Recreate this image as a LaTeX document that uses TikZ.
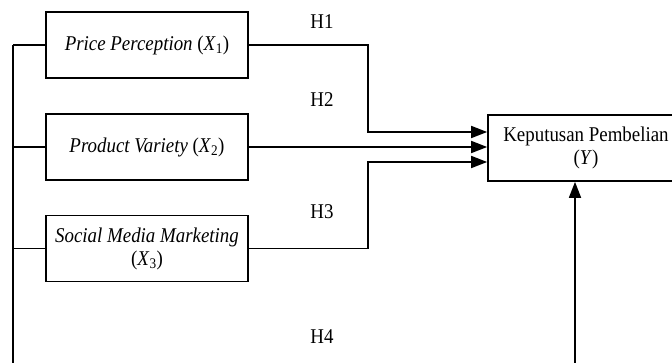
\documentclass[tikz,border=0pt]{standalone}
\usepackage{fontspec}
\setmainfont[FakeStretch=0.9]{Liberation Serif}
\usetikzlibrary{arrows.meta}
\tikzset{
  var/.style={draw, line width=1.7pt, minimum width=202pt, minimum height=66pt, inner sep=2pt, align=center, font=\fontsize{21}{23}\selectfont},
  link/.style={line width=1.7pt},
  arr/.style={line width=1.7pt, -{Triangle[length=16pt,width=12pt]}},
  hyp/.style={font=\fontsize{21}{23}\selectfont}
}
\begin{document}
\begin{tikzpicture}[x=1pt,y=-1pt]
\useasboundingbox (0,0) rectangle (672,363);
\clip (0,0) rectangle (672,363);
\node[var] (x1) at (147,45) {\textit{Price Perception} (\textit{X}\textsubscript{1})};
\node[var] (x2) at (147,147) {\textit{Product Variety} (\textit{X}\textsubscript{2})};
\node[var] (x3) at (147,248.5) {\textit{Social Media Marketing}\\(\textit{X}\textsubscript{3})};
\node[var, minimum width=196pt] (y) at (586,148) {Keputusan Pembelian\\(\textit{Y})};
\node[hyp] (h1) at (322,22) {H1};
\node[hyp] (h2) at (322,100) {H2};
\node[hyp] (h3) at (322,212) {H3};
\node[hyp] (h4) at (322,337) {H4};
\coordinate (lt) at (13,45);
\coordinate (lb) at (13,366);
\coordinate (ab) at (575,366);
\draw[link] (lt) -- (lb);
\draw[link] (lt) -- (x1.west);
\draw[link] (13,147) -- (x2.west);
\draw[link] (13,248.5) -- (x3.west);
\draw[arr] (x1.east) -- (368,45) -- (368,132) -- (y.west |- 0,132);
\draw[arr] (x2.east) -- (y.west |- 0,147);
\draw[arr] (x3.east) -- (368,248.5) -- (368,162) -- (y.west |- 0,162);
\draw[arr] (ab) -- (ab |- y.south);
\end{tikzpicture}
\end{document}
